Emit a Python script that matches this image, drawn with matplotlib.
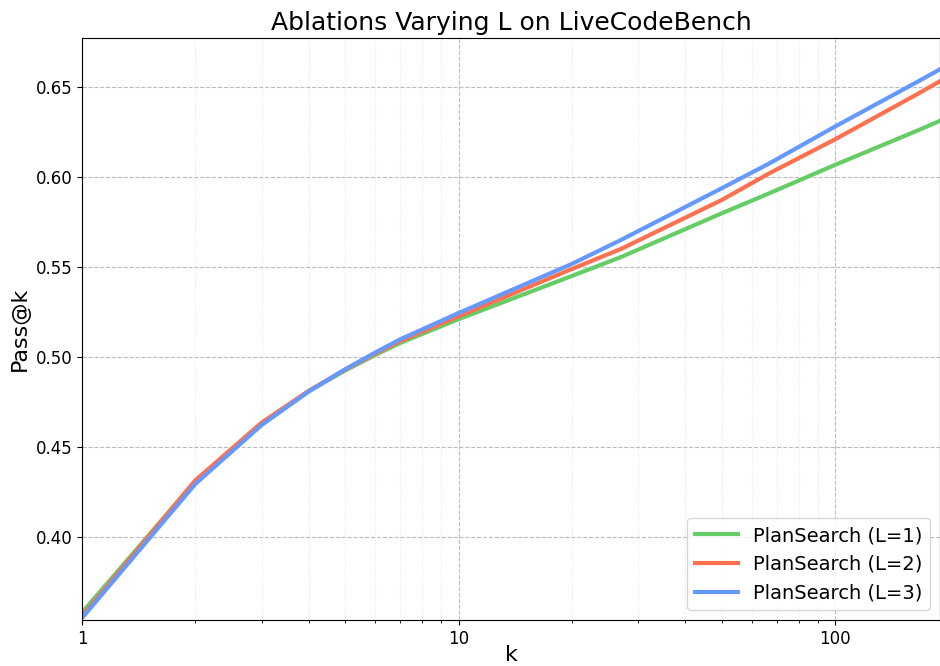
import matplotlib
matplotlib.use("Agg")
import matplotlib.pyplot as plt
from matplotlib.ticker import FuncFormatter

# values
k = [1, 2, 3, 4, 5, 6, 7, 10, 20, 27, 50, 67, 100, 167, 190]
pass_l1 = [0.358, 0.431, 0.4632, 0.4810, 0.4925, 0.5010, 0.5078, 0.5210, 0.5450,
           0.5555, 0.5798, 0.5910, 0.6067, 0.6261, 0.6312]
pass_l2 = [0.356, 0.4315, 0.4635, 0.4812, 0.4930, 0.5018, 0.5088, 0.5226, 0.5489,
           0.5600, 0.5872, 0.6021, 0.6209, 0.6465, 0.6532]
pass_l3 = [0.355, 0.4295, 0.4622, 0.4808, 0.4932, 0.5024, 0.5098, 0.5244, 0.5517,
           0.5650, 0.5937, 0.6076, 0.6280, 0.6533, 0.6598]
labels = ["PlanSearch (L=1)", "PlanSearch (L=2)", "PlanSearch (L=3)"]
colors = ["#66CC66", "#FF704F", "#6699FF"]

fig = plt.figure(figsize=(9.4, 6.66), dpi=100)
ax = fig.add_axes([0.0872, 0.069, 0.9128, 0.874])

for ys, lab, c in zip([pass_l1, pass_l2, pass_l3], labels, colors):
    ax.plot(k, ys, color=c, linewidth=3, label=lab)

ax.set_xscale("log")
ax.set_xlim(1, 190)
ax.set_ylim(0.3539, 0.6772)
ax.xaxis.set_major_formatter(FuncFormatter(lambda v, p: f"{v:g}"))

ax.grid(which="major", linestyle="--", color="#bbbbbb", linewidth=0.8)
ax.grid(which="minor", axis="x", linestyle=":", color="#e6e6e6", linewidth=0.8)

ax.set_title("Ablations Varying L on LiveCodeBench", fontsize=18)
ax.set_xlabel("k", fontsize=16, labelpad=-2)
ax.set_ylabel("Pass@k", fontsize=16)
ax.tick_params(labelsize=12)

ax.legend(loc="lower right", fontsize=14, handlelength=2.2)

fig.savefig("out.png", dpi=100)
